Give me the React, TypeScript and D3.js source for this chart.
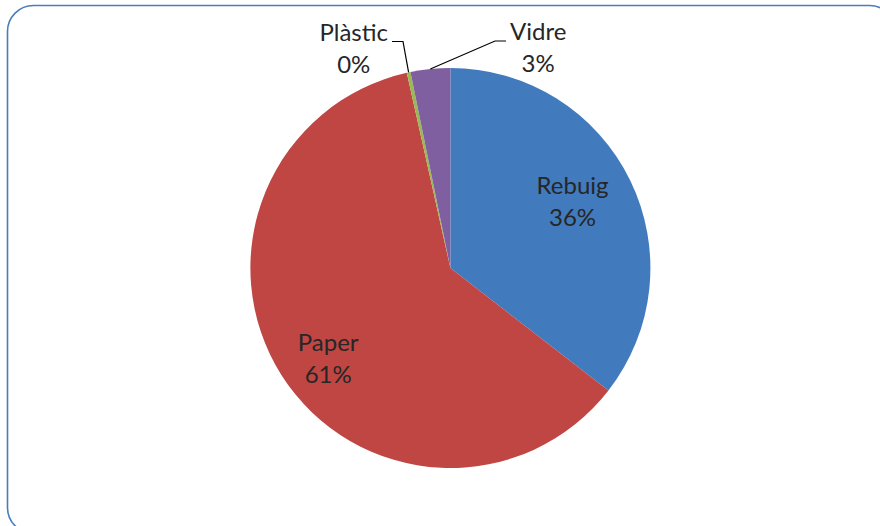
import React from "react";
import * as d3 from "d3";

// Waste composition by fraction (percent)
const categories = ["Rebuig", "Paper", "Plàstic", "Vidre"];
const values = [35.5, 61.0, 0.3, 3.2];
const colors = ["#417BBE", "#BF4643", "#98B954", "#7F5FA0"];

// Label placement: inside labels use a polar position, outside labels get a leader line
type LabelLayout =
  | { kind: "inside"; radius: number; angleShift: number }
  | { kind: "outside"; elbow: [number, number]; end: [number, number]; anchor: "start" | "end" };

const labelLayout: LabelLayout[] = [
  { kind: "inside", radius: 0.68, angleShift: 0 },
  { kind: "inside", radius: 0.78, angleShift: -0.105 },
  { kind: "outside", elbow: [403, 41.5], end: [392, 41.5], anchor: "end" },
  { kind: "outside", elbow: [495, 41], end: [506, 41], anchor: "start" },
];

const W = 880;
const H = 526;
const cx = 450.4;
const cy = 268;
const R = 200;
const FONT = "Lato, 'Open Sans', sans-serif";
const FS = 24;
const LINE = 32;

export default function App() {
  const pie = d3
    .pie<number>()
    .sort(null)
    .value((d) => d)
    .startAngle(0)
    .endAngle(2 * Math.PI);
  const arcs = pie(values);
  const arc = d3.arc<d3.PieArcDatum<number>>().innerRadius(0).outerRadius(R);
  const total = d3.sum(values);
  const pct = (v: number) => `${Math.round((v / total) * 100)}%`;

  return (
    <svg
      width={W}
      height={H}
      style={{ position: "absolute", left: 0, top: 0, display: "block" }}
    >
      <rect x={0} y={0} width={W} height={H} fill="#ffffff" />
      <rect
        x={7.5}
        y={5.5}
        width={888}
        height={528}
        rx={26}
        ry={26}
        fill="#ffffff"
        stroke="#4A7EBB"
        strokeWidth={1.6}
      />
      <g transform={`translate(${cx},${cy})`}>
        {arcs.map((a, i) => (
          <path key={categories[i]} d={arc(a) || ""} fill={colors[i]} />
        ))}
      </g>
      {arcs.map((a, i) => {
        const lay = labelLayout[i];
        const mid = (a.startAngle + a.endAngle) / 2;
        if (lay.kind === "inside") {
          const ang = mid + lay.angleShift;
          const r = R * lay.radius;
          const x = cx + r * Math.sin(ang);
          const y = cy - r * Math.cos(ang);
          return (
            <text
              key={`l-${i}`}
              textAnchor="middle"
              fontFamily={FONT}
              fontSize={FS}
              fill="#262626"
            >
              <tspan x={x} y={y - LINE / 2 + 2}>
                {categories[i]}
              </tspan>
              <tspan x={x} y={y + LINE / 2 + 2}>
                {pct(values[i])}
              </tspan>
            </text>
          );
        }
        const px = cx + R * Math.sin(mid);
        const py = cy - R * Math.cos(mid);
        const [ex, ey] = lay.elbow;
        const [tx, ty] = lay.end;
        // text block is centred on the wider first line
        const dir = lay.anchor === "end" ? -1 : 1;
        const textX = tx + dir * 4;
        return (
          <g key={`l-${i}`}>
            <polyline
              points={`${px},${py} ${ex},${ey} ${tx},${ty}`}
              fill="none"
              stroke="#000000"
              strokeWidth={1.2}
            />
            <LabelBlock
              x={textX}
              y={ty}
              anchor={lay.anchor}
              name={categories[i]}
              value={pct(values[i])}
            />
          </g>
        );
      })}
    </svg>
  );
}

function LabelBlock(props: {
  x: number;
  y: number;
  anchor: "start" | "end";
  name: string;
  value: string;
}) {
  const { x, y, anchor, name, value } = props;
  const ref = React.useRef<SVGTextElement>(null);
  const [w, setW] = React.useState(0);
  React.useLayoutEffect(() => {
    if (ref.current) setW(ref.current.getBBox().width);
  }, [name]);
  const centerX = anchor === "end" ? x - w / 2 : x + w / 2;
  return (
    <g fontFamily={FONT} fontSize={FS} fill="#262626">
      <text ref={ref} x={x} y={y - 1} textAnchor={anchor}>
        {name}
      </text>
      <text x={centerX} y={y + LINE - 1} textAnchor="middle">
        {value}
      </text>
    </g>
  );
}
